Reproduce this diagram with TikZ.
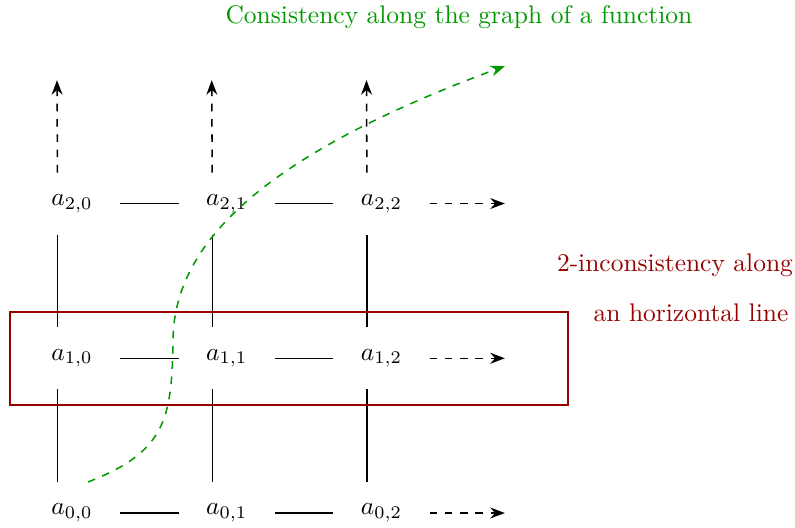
\documentclass[tikz,border=0pt]{standalone}
\usepackage{xcolor}
\usepackage{amsmath}
\usepackage{tikz}
\usetikzlibrary{arrows.meta, positioning}

\begin{document}
\begin{tikzpicture}[
    >=Stealth,
    scale=0.9615,
    semithick,
    pt/.style={inner sep=2pt},
    hline/.style={shorten <=0.663cm, shorten >=0.663cm},
    vline/.style={shorten <=0.428cm, shorten >=0.428cm},
    more/.style={->, dashed},
    note/.style={text=#1},
    note/.default={black}
]
\useasboundingbox (-1.033,-0.201) rectangle (10.373,7.360);

% grid of values
\node[pt] (a00) at (0, 0) {$a_{0,0}$};
\node[pt] (a01) at (2.22, 0) {$a_{0,1}$};
\node[pt] (a02) at (4.44, 0) {$a_{0,2}$};
\node[pt] (a10) at (0, 2.22) {$a_{1,0}$};
\node[pt] (a11) at (2.22, 2.22) {$a_{1,1}$};
\node[pt] (a12) at (4.44, 2.22) {$a_{1,2}$};
\node[pt] (a20) at (0, 4.44) {$a_{2,0}$};
\node[pt] (a21) at (2.22, 4.44) {$a_{2,1}$};
\node[pt] (a22) at (4.44, 4.44) {$a_{2,2}$};

% free ends
\coordinate (up0) at (-0.215, 6.21);
\coordinate (up1) at (2.005, 6.21);
\coordinate (up2) at (4.225, 6.21);
\coordinate (rt0) at (6.21, 0);
\coordinate (rt1) at (6.21, 2.22);
\coordinate (rt2) at (6.21, 4.44);

% horizontal edges
\draw[hline] (a00.center) -- (a01.center);
\draw[hline] (a01.center) -- (a02.center);
\draw[hline] (a10.center) -- (a11.center);
\draw[hline] (a11.center) -- (a12.center);
\draw[hline] (a20.center) -- (a21.center);
\draw[hline] (a21.center) -- (a22.center);

% vertical edges
\draw[vline] ([xshift=-0.207cm]a00.center) -- ([xshift=-0.207cm]a10.center);
\draw[vline] ([xshift=-0.207cm]a10.center) -- ([xshift=-0.207cm]a20.center);
\draw[vline] ([xshift=-0.207cm]a01.center) -- ([xshift=-0.207cm]a11.center);
\draw[vline] ([xshift=-0.207cm]a11.center) -- ([xshift=-0.207cm]a21.center);
\draw[vline] ([xshift=-0.207cm]a02.center) -- ([xshift=-0.207cm]a12.center);
\draw[vline] ([xshift=-0.207cm]a12.center) -- ([xshift=-0.207cm]a22.center);

% continuing
\draw[more, shorten <=0.428cm] ([xshift=-0.207cm]a20.center) -- (up0);
\draw[more, shorten <=0.428cm] ([xshift=-0.207cm]a21.center) -- (up1);
\draw[more, shorten <=0.428cm] ([xshift=-0.207cm]a22.center) -- (up2);
\draw[more, shorten <=0.663cm] (a02.center) -- (rt0);
\draw[more, shorten <=0.663cm] (a12.center) -- (rt1);
\draw[more, shorten <=0.663cm] (a22.center) -- (rt2);

% horizontal line
\draw[red!60!black] (-0.89,1.549) rectangle (7.116,2.884);
\node[note=red!60!black] (inc1) at (8.651,3.558) {2-inconsistency along};
\node[note=red!60!black] (inc2) at (8.881,2.869) {an horizontal line};

% graph of a function
\coordinate (gs) at (0.23,0.445);
\coordinate (ge) at (6.212,6.413);
\draw[more, green!60!black] (gs) .. controls (1.334,0.875) and (1.435,1.334) .. (1.449,2.482)
    .. controls (1.463,3.773) and (2.554,5.065) .. (ge);
\node[note=green!60!black] (cons) at (5.552,7.116) {Consistency along the graph of a function};

\end{tikzpicture}
\end{document}
